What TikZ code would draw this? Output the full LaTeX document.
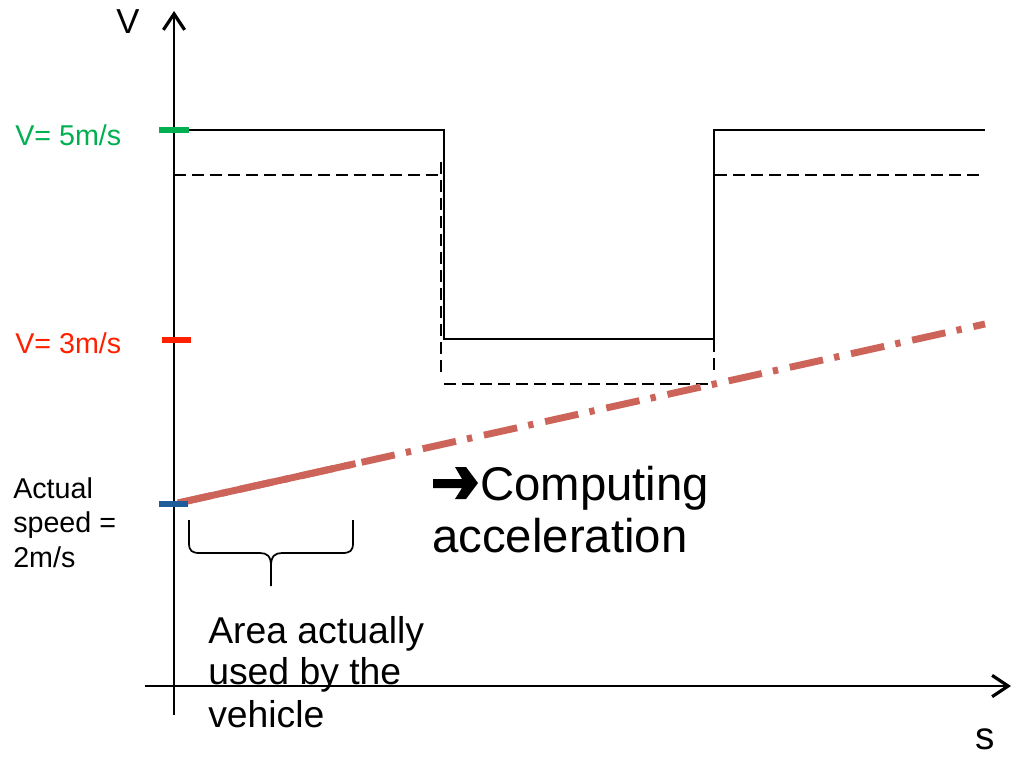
\documentclass[tikz,border=0pt]{standalone}
\usepackage{fontspec}
\setmainfont{Liberation Sans}
\usetikzlibrary{arrows.meta,calc}
\definecolor{limegreen}{RGB}{0,176,80}
\definecolor{limred}{RGB}{255,32,0}
\definecolor{curblue}{RGB}{31,92,153}
\definecolor{accred}{RGB}{205,100,90}
\tikzset{
  axis/.style={line width=1.5pt,-{Straight Barb[length=12pt,width=16pt,line width=2.4pt]}},
  profile/.style={line width=1.5pt,line join=miter},
  margin/.style={line width=1.5pt,dash pattern=on 9pt off 4.5pt},
  tick/.style={line width=5.2pt},
  plan/.style={line width=5.2pt,color=accred,dash pattern=on 25.5pt off 8.5pt on 4pt off 9pt},
  lbl/.style={anchor=base west,inner sep=0pt,font=\fontsize{21.5pt}{25pt}\selectfont},
  note/.style={anchor=base west,inner sep=0pt,font=\fontsize{28pt}{32pt}\selectfont},
  big/.style={anchor=base west,inner sep=0pt,font=\fontsize{35.5pt}{40pt}\selectfont},
}
\begin{document}
\begin{tikzpicture}[x=0.75pt,y=-0.75pt]
\useasboundingbox (0,0) rectangle (1020,757);

% axes
\coordinate (yb) at (174,715);
\coordinate (yt) at (174,11);
\coordinate (xl) at (145,686);
\coordinate (xr) at (1011,686);
\draw[axis] (yb) -- (yt);
\draw[axis] (xl) -- (xr);
\node[anchor=base,inner sep=0pt,font=\fontsize{26pt}{30pt}\selectfont] (vlab) at (128,33) {V};
\node[anchor=base,inner sep=0pt,font=\fontsize{29pt}{32pt}\selectfont] (slab) at (985,749) {s};

% speed limit profile
\draw[profile] (188,130) -- (444,130) -- (444,339) -- (714,339) -- (714,130) -- (985,130);

% safety margin below the limit
\draw[margin] (174,175) -- (441,175);
\draw[margin] (441,162) -- (441,374);
\draw[margin] (444,384) -- (712,384);
\draw[margin] (714,160) -- (714,372);
\draw[margin] (715,175) -- (985,175);

% planned speed with constant acceleration
\coordinate (p0) at (178,503);
\coordinate (p1) at (985,324);
\draw[plan] (p0) -- (p1);
\draw[line width=5.2pt,color=accred] (p0) -- ($(p0)!0.22!(p1)$);

% ticks on the speed axis
\draw[tick,limegreen] (159,130) -- (189,130);
\draw[tick,limred] (162,340) -- (191,340);
\draw[tick,curblue] (159,504) -- (188,504);

% labels of the ticks
\node[lbl,text=limegreen] (v5) at (15,145) {V= 5m/s};
\node[lbl,text=limred] (v3) at (15,353) {V= 3m/s};
\node[lbl] (as1) at (13,498) {Actual};
\node[lbl] (as2) at (13,532) {speed =};
\node[lbl] (as3) at (13,567) {2m/s};

% brace under the used part
\draw[line width=1.3pt] (189,520) -- (189,543) .. controls (189,551) and (192,553) .. (200,553)
  -- (260,553) .. controls (267,553) and (271,556) .. (271,566) -- (271,586)
  (271,566) .. controls (271,556) and (275,553) .. (282,553) -- (342,553)
  .. controls (350,553) and (353,551) .. (353,543) -- (353,520);

\node[note] (ar1) at (208,643) {Area actually};
\node[note] (ar2) at (208,684) {used by the};
\node[note] (ar3) at (208,727) {vehicle};

% heavy arrow in front of the conclusion
\fill (433,479) -- (462,479) -- (455,467) -- (466,467) -- (478,483)
  -- (466,499) -- (455,499) -- (462,488) -- (433,488) -- cycle;
\node[big] (cp1) at (480,500) {Computing};
\node[big] (cp2) at (432,552) {acceleration};
\end{tikzpicture}
\end{document}
